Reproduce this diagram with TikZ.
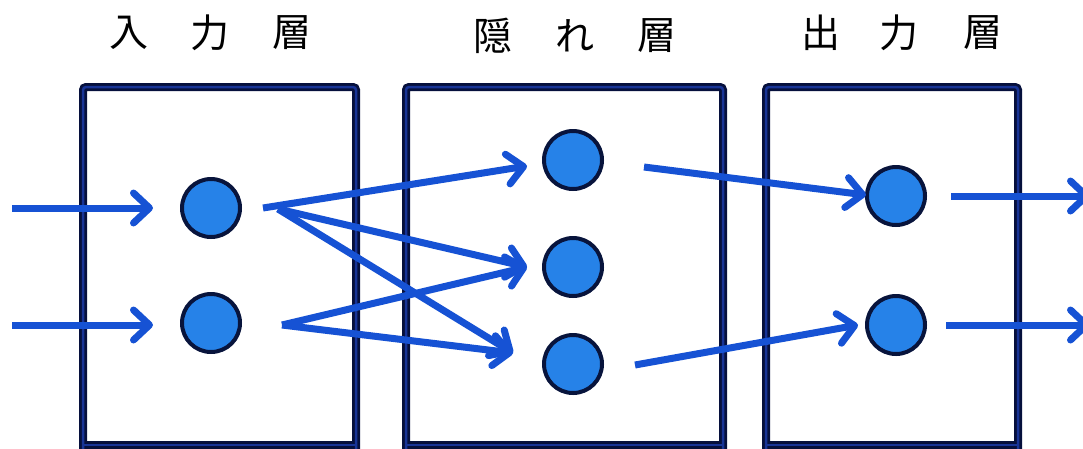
\documentclass[tikz,border=0pt]{standalone}
\usepackage{fontspec}
\newfontfamily\jpfont{Noto Sans CJK JP}
\usetikzlibrary{arrows.meta,calc}
\definecolor{boxouter}{RGB}{6,16,60}
\definecolor{boxinner}{RGB}{24,52,150}
\definecolor{nodefill}{RGB}{38,130,232}
\definecolor{nodeline}{RGB}{8,20,60}
\definecolor{arrcol}{RGB}{22,82,212}
\begin{document}
\begin{tikzpicture}[x=1pt,y=-1pt,
  layerbox/.style={draw=boxouter,line width=8pt,rounded corners=3pt},
  layerboxin/.style={draw=boxinner,line width=2.5pt,rounded corners=3pt},
  neuron/.style={circle,fill=nodefill,draw=nodeline,line width=4pt,minimum size=58pt,inner sep=0pt},
  arr/.style={draw=arrcol,line width=7pt,-{Straight Barb[length=16pt,width=30pt,line cap=round,line join=round]}},
  lbl/.style={font=\jpfont\fontsize{39}{42}\selectfont,inner sep=0pt}
]
\useasboundingbox (0,0) rectangle (1083,448);
% layer boxes
\foreach \l/\r in {83/356, 406/723, 766/1018}{
  \draw[layerbox] (\l,480) -- (\l,87) -- (\r,87) -- (\r,480);
  \draw[layerbox] (\l,445) -- (\r,445);
  \draw[layerboxin] (\l,480) -- (\l,87) -- (\r,87) -- (\r,480);
  \draw[layerboxin] (\l,445) -- (\r,445);
}
% labels
\node[lbl] (t1a) at (129,33) {入};
\node[lbl] (t1b) at (210,33) {力};
\node[lbl] (t1c) at (292,33) {層};
\node[lbl] (t2a) at (493,36) {隠};
\node[lbl] (t2b) at (575,36) {れ};
\node[lbl] (t2c) at (657,36) {層};
\node[lbl] (t3a) at (821,33) {出};
\node[lbl] (t3b) at (899,33) {力};
\node[lbl] (t3c) at (983,33) {層};
% neurons
\node[neuron] (i1) at (211,208) {};
\node[neuron] (i2) at (211,323) {};
\node[neuron] (h1) at (573,160) {};
\node[neuron] (h2) at (573,267) {};
\node[neuron] (h3) at (573,364) {};
\node[neuron] (o1) at (896,196) {};
\node[neuron] (o2) at (896,325) {};
% connector end points
\coordinate (in1) at (12,208);
\coordinate (in2) at (12,325);
\coordinate (i1t) at ($(i1)+(-58,0)$);
\coordinate (i2t) at ($(i2)+(-58,2)$);
\coordinate (i1s) at ($(i1)+(52,0)$);
\coordinate (i1v) at ($(i1)+(67,1)$);
\coordinate (i2s) at ($(i2)+(71,2)$);
\coordinate (h1t) at ($(h1)+(-46,6)$);
\coordinate (h2t) at ($(h2)+(-46,0)$);
\coordinate (h3t) at ($(h3)+(-60,-11)$);
\coordinate (h1s) at ($(h1)+(71,7)$);
\coordinate (h3s) at ($(h3)+(62,1)$);
\coordinate (o1t) at ($(o1)+(-30,-1)$);
\coordinate (o2t) at ($(o2)+(-38,0)$);
\coordinate (o1s) at ($(o1)+(55,0)$);
\coordinate (o2s) at ($(o2)+(50,0)$);
\coordinate (out1) at (1090,196);
\coordinate (out2) at (1090,325);
% connectors
\draw[arr] (in1) -- (i1t);
\draw[arr] (in2) -- (i2t);
\draw[arr] (i1s) -- (h1t);
\draw[arr] (i1v) -- (h2t);
\draw[arr] (i1v) -- (h3t);
\draw[arr] (i2s) -- (h2t);
\draw[arr] (i2s) -- (h3t);
\draw[arr] (h1s) -- (o1t);
\draw[arr] (h3s) -- (o2t);
\draw[arr] (o1s) -- (out1);
\draw[arr] (o2s) -- (out2);
\end{tikzpicture}
\end{document}
